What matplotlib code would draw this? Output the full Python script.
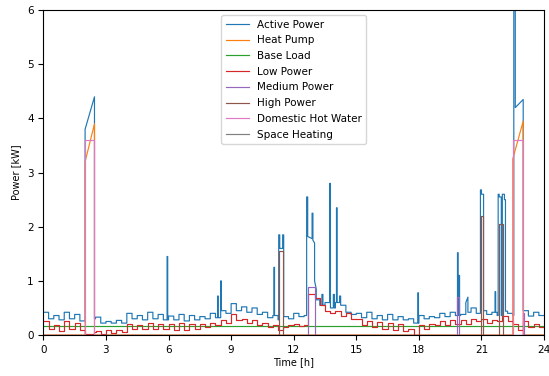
import numpy as np
import matplotlib.pyplot as plt

# 15-min step values (96 per series)
active_base = [
    0.42, 0.30, 0.36, 0.28,  0.42, 0.30, 0.38, 0.26,  0.30, 0.30, 0.33, 0.22,
    0.25, 0.22, 0.27, 0.22,  0.40, 0.30, 0.36, 0.28,  0.42, 0.30, 0.38, 0.28,
    0.35, 0.28, 0.38, 0.26,  0.36, 0.28, 0.34, 0.30,  0.40, 0.32, 0.45, 0.40,
    0.58, 0.45, 0.52, 0.42,  0.50, 0.38, 0.42, 0.32,  0.36, 0.28, 0.34, 0.30,
    0.40, 0.34, 0.36, 0.30,  0.65, 0.55, 0.60, 0.50,  0.60, 0.55, 0.42, 0.38,
    0.40, 0.32, 0.42, 0.30,  0.36, 0.28, 0.38, 0.28,  0.34, 0.28, 0.30, 0.22,
    0.36, 0.30, 0.34, 0.32,  0.40, 0.34, 0.42, 0.36,  0.38, 0.42, 0.50, 0.40,
    0.45, 0.38, 0.42, 0.36,  0.44, 0.40, 0.36, 0.30,  0.45, 0.35, 0.42, 0.36,
]
low_power = [
    0.25, 0.12, 0.18, 0.08,  0.25, 0.12, 0.22, 0.10,  0.05, 0.05, 0.08, 0.02,
    0.10, 0.03, 0.10, 0.05,  0.20, 0.12, 0.18, 0.12,  0.22, 0.12, 0.20, 0.12,
    0.20, 0.10, 0.22, 0.10,  0.20, 0.12, 0.20, 0.14,  0.22, 0.18, 0.28, 0.22,
    0.38, 0.28, 0.30, 0.22,  0.28, 0.18, 0.22, 0.14,  0.18, 0.10, 0.15, 0.18,
    0.20, 0.16, 0.18, 0.15,  0.68, 0.55, 0.45, 0.40,  0.45, 0.35, 0.40, 0.30,
    0.30, 0.18, 0.26, 0.15,  0.24, 0.12, 0.22, 0.10,  0.20, 0.08, 0.12, 0.00,
    0.18, 0.12, 0.20, 0.18,  0.25, 0.18, 0.28, 0.20,  0.28, 0.20, 0.30, 0.25,
    0.30, 0.22, 0.28, 0.25,  0.35, 0.25, 0.20, 0.10,  0.25, 0.15, 0.20, 0.15,
]
base_load = [0.17]

# events: (start h, end h, value at start, value at end)
active_events = [
    (2.00, 2.45, 3.80, 4.40), (5.93, 5.96, 1.45, 1.45), (8.35, 8.38, 0.72, 0.72),
    (8.50, 8.53, 1.00, 1.00), (11.05, 11.08, 1.25, 1.25), (11.28, 11.33, 1.85, 1.85),
    (11.33, 11.47, 1.60, 1.60), (11.47, 11.52, 1.85, 1.85), (12.62, 12.67, 2.55, 2.55),
    (12.67, 12.88, 1.82, 1.78), (12.88, 12.92, 2.25, 2.25), (12.92, 13.00, 1.75, 1.70),
    (13.00, 13.08, 1.00, 0.85), (13.35, 13.40, 0.75, 0.75), (13.72, 13.76, 2.80, 2.80),
    (13.90, 13.95, 0.75, 0.75), (14.05, 14.08, 2.35, 2.35), (14.20, 14.25, 0.72, 0.72),
    (17.95, 17.98, 0.78, 0.78), (19.85, 19.88, 1.52, 1.52), (19.90, 19.95, 1.10, 1.10),
    (20.25, 20.35, 0.60, 0.70), (20.95, 21.00, 2.68, 2.68), (21.00, 21.10, 2.60, 2.60),
    (21.65, 21.68, 0.80, 0.80), (21.80, 21.85, 2.60, 2.60), (21.85, 21.95, 2.55, 2.55),
    (22.00, 22.10, 2.60, 2.60), (22.10, 22.15, 2.50, 2.50), (22.55, 22.62, 6.30, 6.30),
    (22.62, 23.00, 4.20, 4.35),
]
heat_pump_events = [(2.00, 2.45, 3.20, 3.90), (22.50, 23.00, 3.25, 3.95)]
low_events = [(2.00, 2.45, 0.02, 0.02), (12.70, 13.00, 0.75, 0.75)]
medium_events = [(12.70, 13.00, 0.88, 0.88), (19.85, 19.90, 0.70, 0.70), (22.98, 23.02, 0.40, 0.40)]
high_events = [(11.30, 11.50, 1.55, 1.55), (21.00, 21.05, 2.20, 2.20), (21.85, 22.05, 2.05, 2.05)]
dhw_events = [(2.00, 2.45, 3.60, 3.60), (22.50, 23.00, 3.60, 3.60)]


def make_line(step_vals, events=(), dt=0.25):
    """step signal on a regular grid, with intervals replaced by events"""
    if len(step_vals) == 1:
        dt = 24.0
    edges = set(np.round(np.arange(0, 24 + dt / 2, dt), 4))
    for s, e, a, b in events:
        edges |= {s, e}
    edges = sorted(edges)
    xs, ys = [], []
    for t0, t1 in zip(edges[:-1], edges[1:]):
        ev = next((ev for ev in events if ev[0] <= t0 + 1e-9 and t1 <= ev[1] + 1e-9), None)
        if ev:
            s, e, a, b = ev
            y0 = a + (b - a) * (t0 - s) / (e - s)
            y1 = a + (b - a) * (t1 - s) / (e - s)
        else:
            y0 = y1 = step_vals[min(int(t0 / dt + 1e-9), len(step_vals) - 1)]
        xs += [t0, t1]
        ys += [y0, y1]
    return xs, ys


series = [
    ("Active Power", make_line(active_base, active_events)),
    ("Heat Pump", make_line([0.0], heat_pump_events)),
    ("Base Load", make_line(base_load)),
    ("Low Power", make_line(low_power, low_events)),
    ("Medium Power", make_line([0.0], medium_events)),
    ("High Power", make_line([0.0], high_events)),
    ("Domestic Hot Water", make_line([0.0], dhw_events)),
    ("Space Heating", make_line([0.0])),
]

fig = plt.figure(figsize=(5.49, 3.76), dpi=100)
ax = fig.add_axes([0.079, 0.109, 0.912, 0.864])

for i, (label, (xs, ys)) in enumerate(series):
    ax.plot(xs, ys, color=f"C{i}", linewidth=0.85, label=label)

ax.set_xlim(0, 24)
ax.set_ylim(0, 6)
ax.set_xticks(range(0, 25, 3))
ax.set_yticks(range(0, 7))
ax.tick_params(labelsize=7.5)
ax.set_xlabel("Time [h]", fontsize=7, labelpad=2)
ax.set_ylabel("Power [kW]", fontsize=7, labelpad=4)
ax.legend(loc="upper center", bbox_to_anchor=(0.5, 1.0), fontsize=7.5,
          handlelength=2.2, labelspacing=0.55)

fig.savefig("out.png", dpi=100)
